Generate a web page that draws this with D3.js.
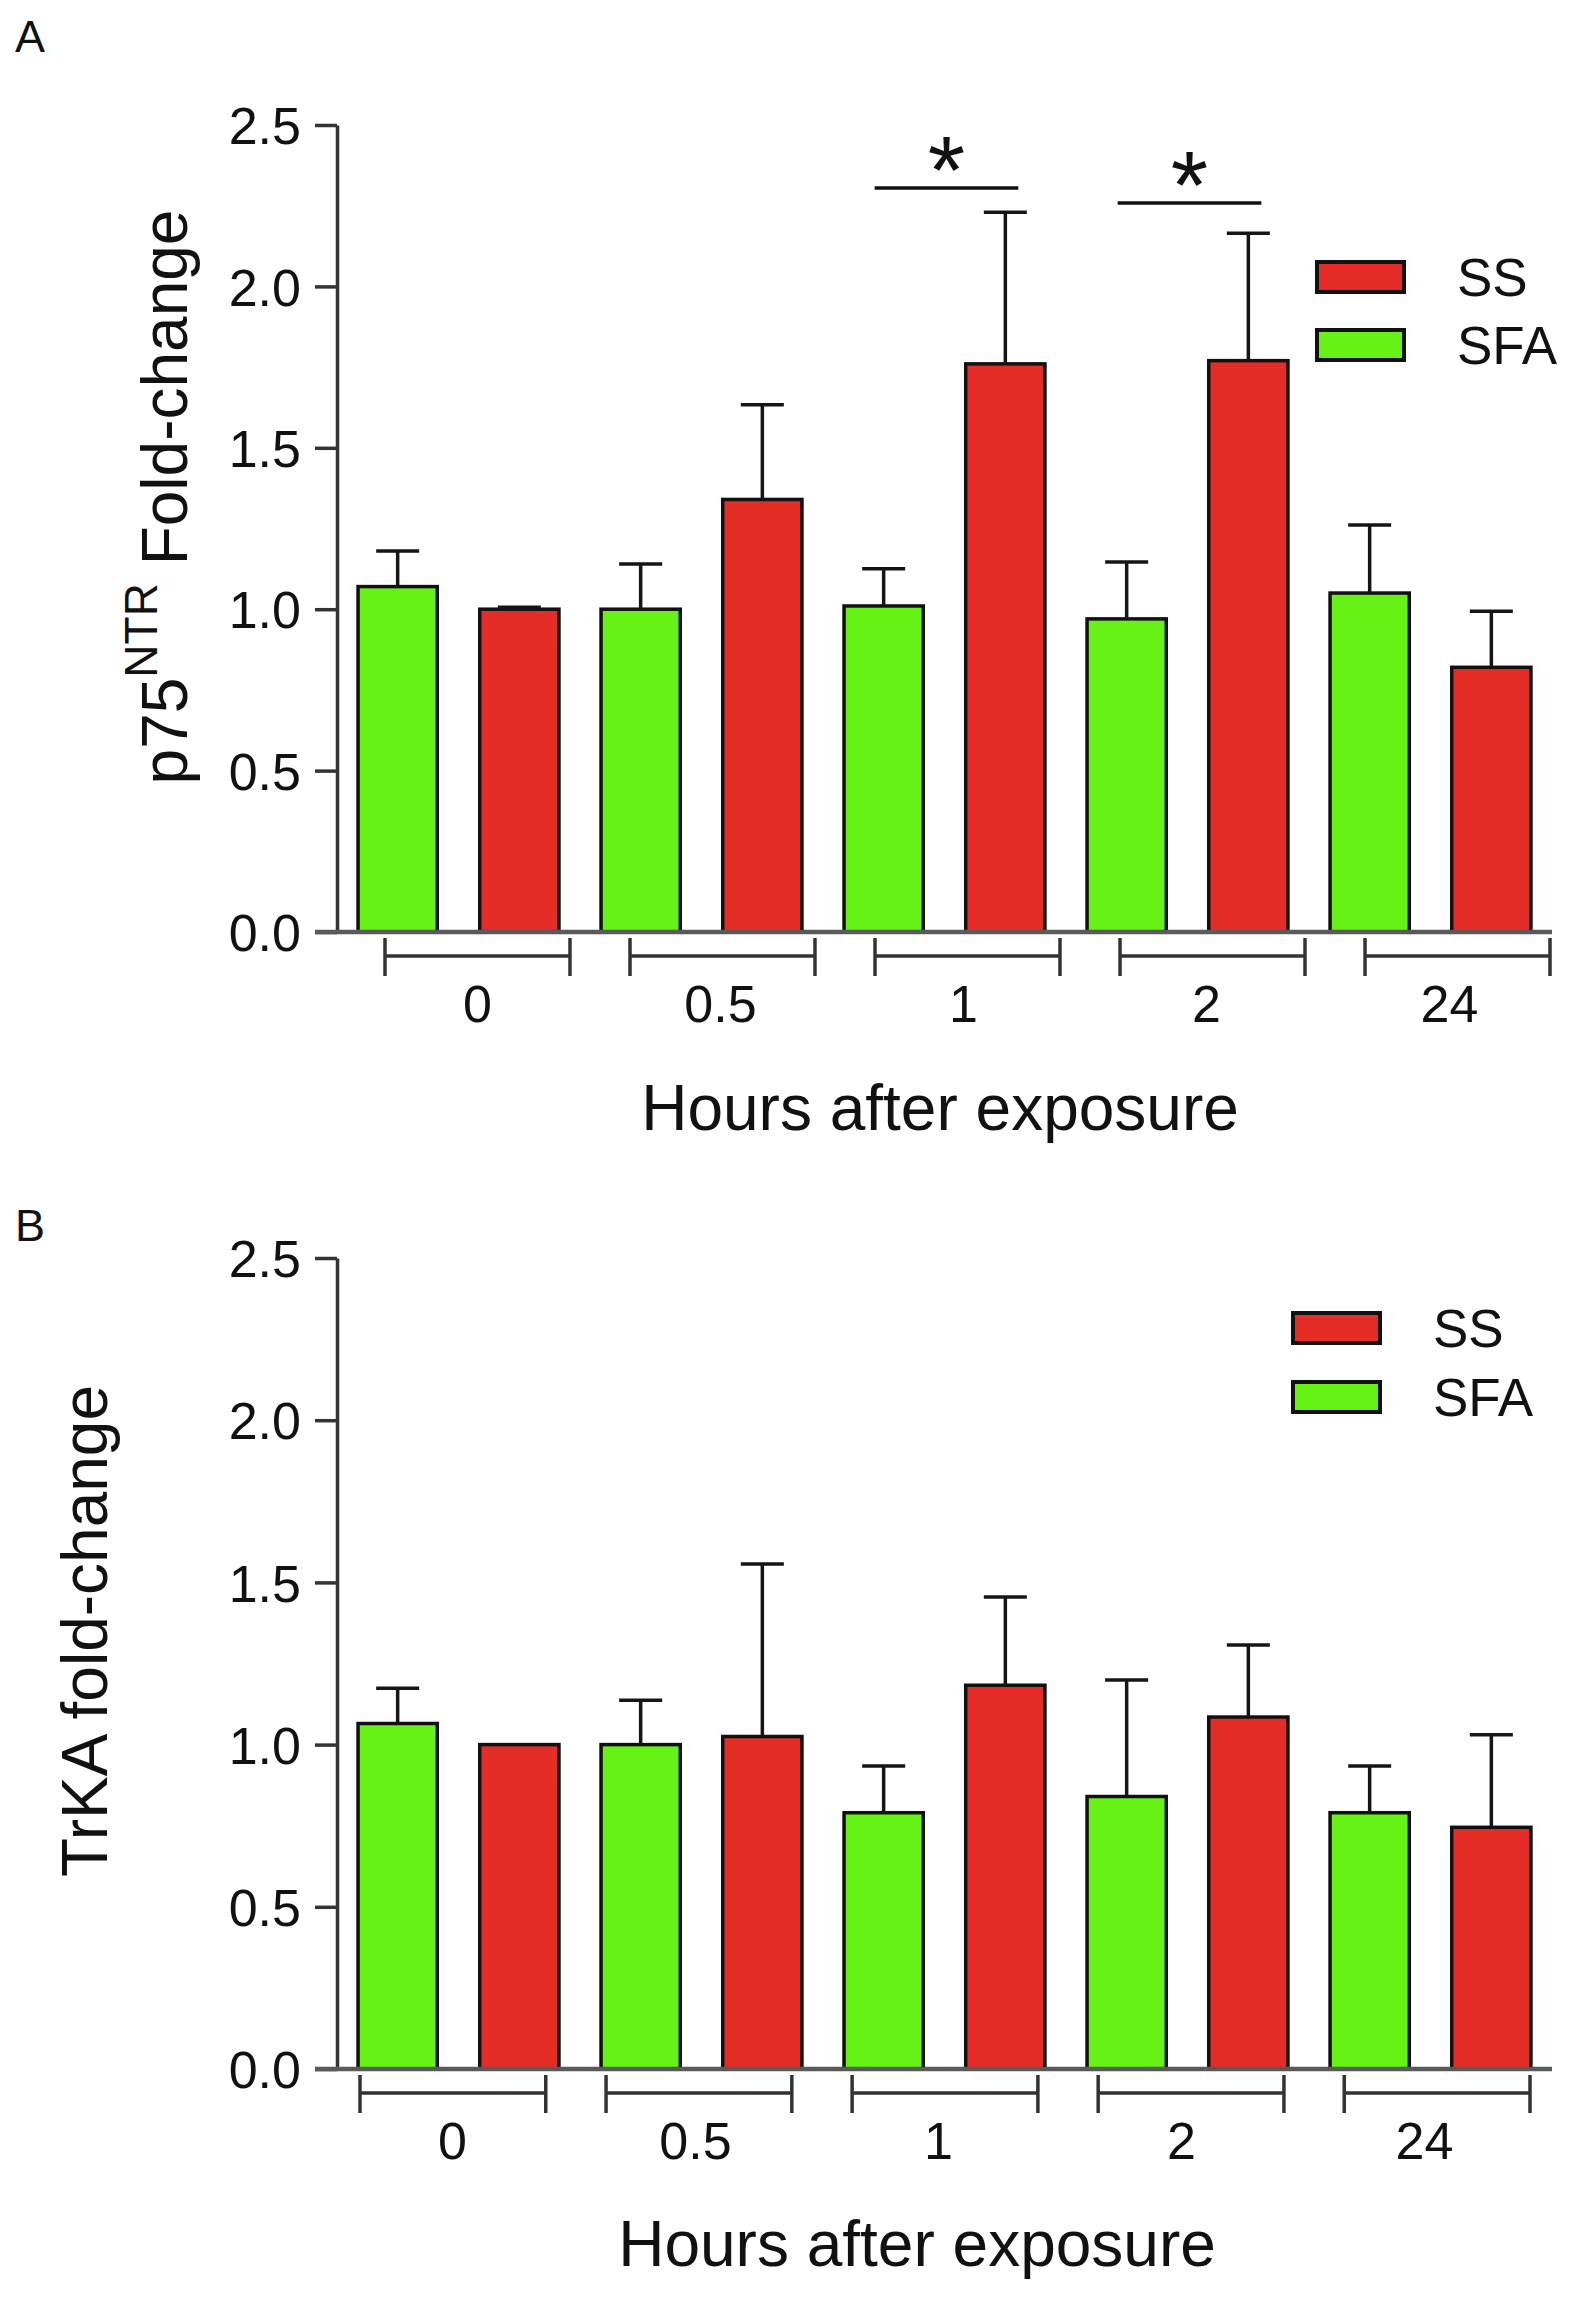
<!DOCTYPE html>
<html>
<head>
<meta charset="utf-8">
<script src="https://cdn.jsdelivr.net/npm/d3@7"></script>
<style>
html, body { margin: 0; padding: 0; background: #fff; }
svg { display: block; }
text { font-family: "Liberation Sans", Arial, sans-serif; fill: #111; }
</style>
</head>
<body>
<svg id="chart" width="1571" height="2302"></svg>
<script>
// ---------- data ----------
const hours = ["0", "0.5", "1", "2", "24"];
const seriesNames = ["SFA", "SS"];
const legendNames = ["SS", "SFA"];
const yTickValues = [0, 0.5, 1.0, 1.5, 2.0, 2.5];
const xTitle = "Hours after exposure";

// Panel A: p75NTR fold-change (mean and top of error bar)
const p75SFA     = [1.07, 1.00, 1.01, 0.97, 1.05];
const p75SFATop  = [1.18, 1.14, 1.125, 1.146, 1.261];
const p75SS      = [1.00, 1.34, 1.76, 1.77, 0.82];
const p75SSTop   = [1.006, 1.633, 2.23, 2.165, 0.994];
const p75SigHours = ["1", "2"];
const p75SigLevel = [2.305, 2.258];
const p75SigLabel = ["*", "*"];

// Panel B: TrKA fold-change
const trkSFA     = [1.065, 1.00, 0.79, 0.84, 0.79];
const trkSFATop  = [1.174, 1.137, 0.934, 1.199, 0.934];
const trkSS      = [1.00, 1.025, 1.183, 1.085, 0.745];
const trkSSTop   = [1.00, 1.557, 1.455, 1.307, 1.03];

const colors = { SFA: "#66f215", SS: "#e42d26" };

// ---------- build ----------
const svg = d3.select("#chart");
svg.append("rect").attr("width", 1571).attr("height", 2302).attr("fill", "#fff");

function rowsFrom(sfa, sfaTop, ss, ssTop) {
  const rows = [];
  hours.forEach((h, i) => {
    rows.push({ hour: h, series: "SFA", value: sfa[i], top: sfaTop[i] });
    rows.push({ hour: h, series: "SS", value: ss[i], top: ssTop[i] });
  });
  return rows;
}

function drawPanel(cfg) {
  const g = svg.append("g");
  const y = d3.scaleLinear().domain([0, 2.5]).range([cfg.yBottom, cfg.yTop]);
  const x0 = d3.scaleBand().domain(hours).range([cfg.axisX, cfg.axisEnd]).paddingInner(0).paddingOuter(0);
  const x1 = d3.scaleBand().domain(seriesNames).range([0, x0.bandwidth()])
    .paddingInner(0.349).paddingOuter(0.173);
  const xb = d3.scaleBand().domain(hours).range(cfg.bracketRange).paddingInner(0.245).paddingOuter(0);

  // panel letter
  g.append("text").attr("x", 15).attr("y", cfg.letterY)
    .style("font-size", "45px").text(cfg.letter);

  // bars
  const bx = d => x0(d.hour) + x1(d.series);
  const bw = x1.bandwidth();
  g.append("g").selectAll("rect").data(cfg.rows).join("rect")
    .attr("x", bx)
    .attr("y", d => y(d.value))
    .attr("width", bw)
    .attr("height", d => y(0) - y(d.value))
    .attr("fill", d => colors[d.series])
    .attr("stroke", "#111")
    .attr("stroke-width", 3.5);

  // error bars (upper only)
  const eb = g.append("g").attr("stroke", "#151515").attr("stroke-width", 3.5);
  const errRows = cfg.rows.filter(d => d.top > d.value);
  eb.selectAll("line.v").data(errRows).join("line").attr("class", "v")
    .attr("x1", d => bx(d) + bw / 2).attr("x2", d => bx(d) + bw / 2)
    .attr("y1", d => y(d.value)).attr("y2", d => y(d.top));
  eb.selectAll("line.c").data(errRows).join("line").attr("class", "c")
    .attr("x1", d => bx(d) + bw / 2 - 21.5).attr("x2", d => bx(d) + bw / 2 + 21.5)
    .attr("y1", d => y(d.top)).attr("y2", d => y(d.top));

  // y axis
  const yAxis = d3.axisLeft(y).tickValues(yTickValues).tickFormat(d3.format(".1f"))
    .tickSize(22).tickSizeOuter(0).tickPadding(14);
  const ya = g.append("g").attr("transform", `translate(${cfg.axisX},0)`).call(yAxis);
  ya.select(".domain").attr("stroke", "#333").attr("stroke-width", 3.5);
  ya.selectAll(".tick line").attr("stroke", "#333").attr("stroke-width", 3.5);
  ya.selectAll(".tick text").attr("fill", "#1a1a1a")
    .style("font-size", "52px").style("font-family", "'Liberation Sans', Arial, sans-serif")
    .attr("dy", "0.36em");

  // x axis baseline
  g.append("line").attr("x1", cfg.axisX - 22).attr("x2", cfg.axisEnd)
    .attr("y1", y(0)).attr("y2", y(0))
    .attr("stroke", "#5a5a5a").attr("stroke-width", 4.5);

  // group brackets
  const br = g.append("g").attr("stroke", "#333").attr("stroke-width", 3.5);
  const yb = y(0) + 24;
  br.selectAll("line.h").data(hours).join("line").attr("class", "h")
    .attr("x1", h => xb(h)).attr("x2", h => xb(h) + xb.bandwidth())
    .attr("y1", yb).attr("y2", yb);
  br.selectAll("line.l").data(hours).join("line").attr("class", "l")
    .attr("x1", h => xb(h)).attr("x2", h => xb(h))
    .attr("y1", y(0) + 6).attr("y2", y(0) + 44);
  br.selectAll("line.r").data(hours).join("line").attr("class", "r")
    .attr("x1", h => xb(h) + xb.bandwidth()).attr("x2", h => xb(h) + xb.bandwidth())
    .attr("y1", y(0) + 6).attr("y2", y(0) + 44);

  // category labels
  g.append("g").selectAll("text").data(hours).join("text")
    .attr("x", h => x0(h) + x0.bandwidth() / 2 + cfg.labelShift)
    .attr("y", y(0) + 90)
    .attr("text-anchor", "middle")
    .style("font-size", "52px")
    .text(h => h);

  // x title
  g.append("text").attr("x", cfg.xTitleX).attr("y", cfg.xTitleY)
    .attr("text-anchor", "middle").style("font-size", "64px").text(xTitle);

  // y title
  const yt = g.append("text")
    .attr("transform", `translate(${cfg.yTitleX},${cfg.yTitleY}) rotate(-90)`)
    .attr("text-anchor", "middle").style("font-size", "64px");
  cfg.yTitle.forEach(part => {
    const t = yt.append("tspan").text(part.text);
    if (part.sup) t.style("font-size", "46px").attr("dy", -30);
    else if (part.after) t.attr("dy", 30);
  });

  // legend
  const lg = g.append("g");
  legendNames.forEach((name, i) => {
    const ry = cfg.legendY + i * cfg.legendStep;
    lg.append("rect").attr("x", cfg.legendX).attr("y", ry)
      .attr("width", 87).attr("height", 30)
      .attr("fill", colors[name]).attr("stroke", "#111").attr("stroke-width", 4);
    lg.append("text").attr("x", cfg.legendX + 140).attr("y", ry + 15 + 19)
      .style("font-size", "53px").text(name);
  });

  // significance
  if (cfg.sig) {
    const sg = g.append("g");
    cfg.sig.hours.forEach((h, i) => {
      const xa = x0(h) + x1("SFA") + bw / 2 - 9;
      const xc = x0(h) + x1("SS") + bw / 2 + 13;
      const ly = y(cfg.sig.level[i]);
      sg.append("line").attr("x1", xa).attr("x2", xc).attr("y1", ly).attr("y2", ly)
        .attr("stroke", "#111").attr("stroke-width", 3.5);
      sg.append("text").attr("x", (xa + xc) / 2).attr("y", ly + 15)
        .attr("text-anchor", "middle").style("font-size", "96px").text(cfg.sig.label[i]);
    });
  }
}

drawPanel({
  letter: "A", letterY: 52,
  rows: rowsFrom(p75SFA, p75SFATop, p75SS, p75SSTop),
  yTop: 125, yBottom: 932, axisX: 337, axisEnd: 1552,
  bracketRange: [385, 1550], labelShift: 19,
  xTitleX: 940, xTitleY: 1130,
  yTitleX: 187, yTitleY: 497,
  yTitle: [{ text: "p75" }, { text: "NTR", sup: true }, { text: " Fold-change", after: true }],
  legendX: 1317, legendY: 262, legendStep: 68,
  sig: { hours: p75SigHours, level: p75SigLevel, label: p75SigLabel }
});

drawPanel({
  letter: "B", letterY: 1241,
  rows: rowsFrom(trkSFA, trkSFATop, trkSS, trkSSTop),
  yTop: 1258, yBottom: 2069, axisX: 337, axisEnd: 1552,
  bracketRange: [360, 1530], labelShift: -6,
  xTitleX: 917, xTitleY: 2266,
  yTitleX: 107, yTitleY: 1631,
  yTitle: [{ text: "TrKA fold-change" }],
  legendX: 1293, legendY: 1313, legendStep: 69,
  sig: null
});
</script>
</body>
</html>
